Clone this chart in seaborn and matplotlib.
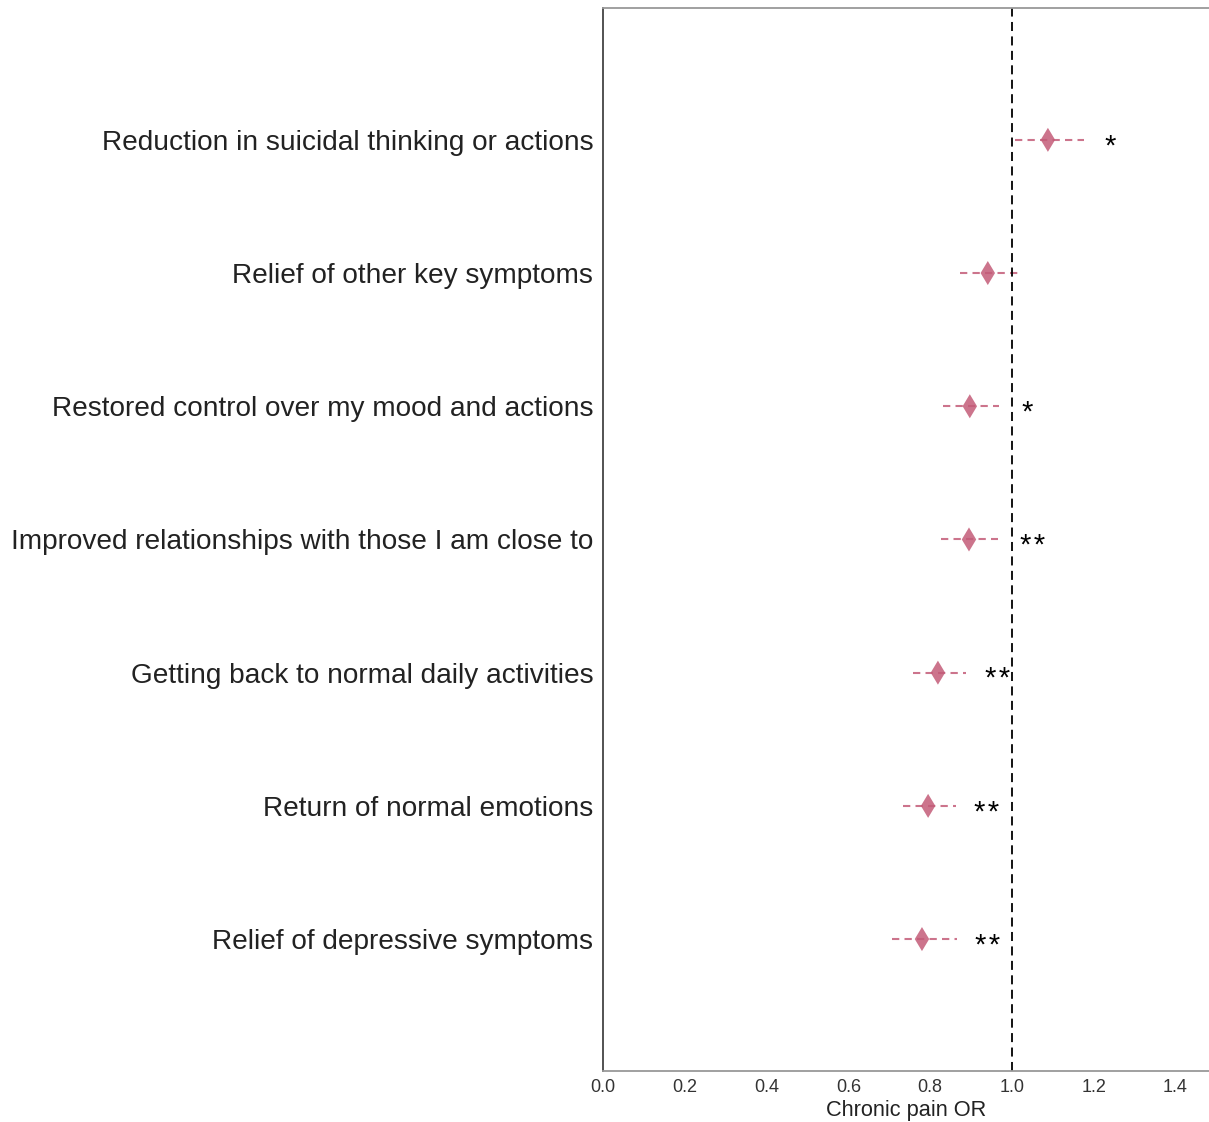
import matplotlib
matplotlib.use("Agg")
import matplotlib.pyplot as plt
import seaborn as sns
import pandas as pd

outcomes = [
    "Reduction in suicidal thinking or actions",
    "Relief of other key symptoms",
    "Restored control over my mood and actions",
    "Improved relationships with those I am close to",
    "Getting back to normal daily activities",
    "Return of normal emotions",
    "Relief of depressive symptoms",
]
odds_ratio = [1.088, 0.941, 0.897, 0.895, 0.819, 0.795, 0.780]
ci_low = [1.007, 0.873, 0.831, 0.826, 0.758, 0.733, 0.707]
ci_high = [1.176, 1.017, 0.968, 0.966, 0.888, 0.863, 0.866]
stars = ["*", "", "*", "**", "**", "**", "**"]
star_x = [1.24, 0.0, 1.037, 1.05, 0.966, 0.939, 0.941]

df = pd.DataFrame({"outcome": outcomes, "OR": odds_ratio,
                   "lo": ci_low, "hi": ci_high, "sig": stars,
                   "star_x": star_x})

sns.set_style("white")
plt.rcParams["font.family"] = ["Liberation Sans", "DejaVu Sans"]

color = "#c35c78"
fig = plt.figure(figsize=(12.09, 11.22), dpi=100)
ax = fig.add_axes([0.4988, 0.0455, 0.5012, 0.9474])

for i, row in df.iterrows():
    ax.plot([row["lo"], row["hi"]], [i, i], ls="--", color=color,
            alpha=0.85, lw=1.5, dashes=(3.5, 2.5))
    if row["sig"]:
        # asterisks sit high in the font, nudge them onto the row
        ax.text(row["star_x"], i + 0.05, "\u200a".join(row["sig"]),
                ha="center", va="center", fontsize=21, color="black")

sns.scatterplot(data=df, x="OR", y="outcome", marker="d", s=150,
                color=color, alpha=0.85, edgecolor="none", ax=ax, zorder=3)

ax.axvline(1.0, color="black", ls="--", lw=1.3, dashes=(5, 3))
ax.set_xlim(0, 1.482)
ax.set_ylim(6.99, -0.99)
ax.set_xticks([0.0, 0.2, 0.4, 0.6, 0.8, 1.0, 1.2, 1.4])
ax.set_xlabel("Chronic pain OR", fontsize=15.7, color="#222222", labelpad=3)
ax.set_ylabel("")
ax.tick_params(axis="x", labelsize=13, colors="#333333", length=0, pad=6)
ax.tick_params(axis="y", labelsize=20.2, colors="#222222", length=0, pad=7)

ax.spines["right"].set_visible(False)
ax.spines["left"].set_color("#444444")
ax.spines["top"].set_color("#999999")
ax.spines["bottom"].set_color("#999999")
for s in ["left", "top", "bottom"]:
    ax.spines[s].set_linewidth(1.3)

fig.savefig("out.png", dpi=100)
